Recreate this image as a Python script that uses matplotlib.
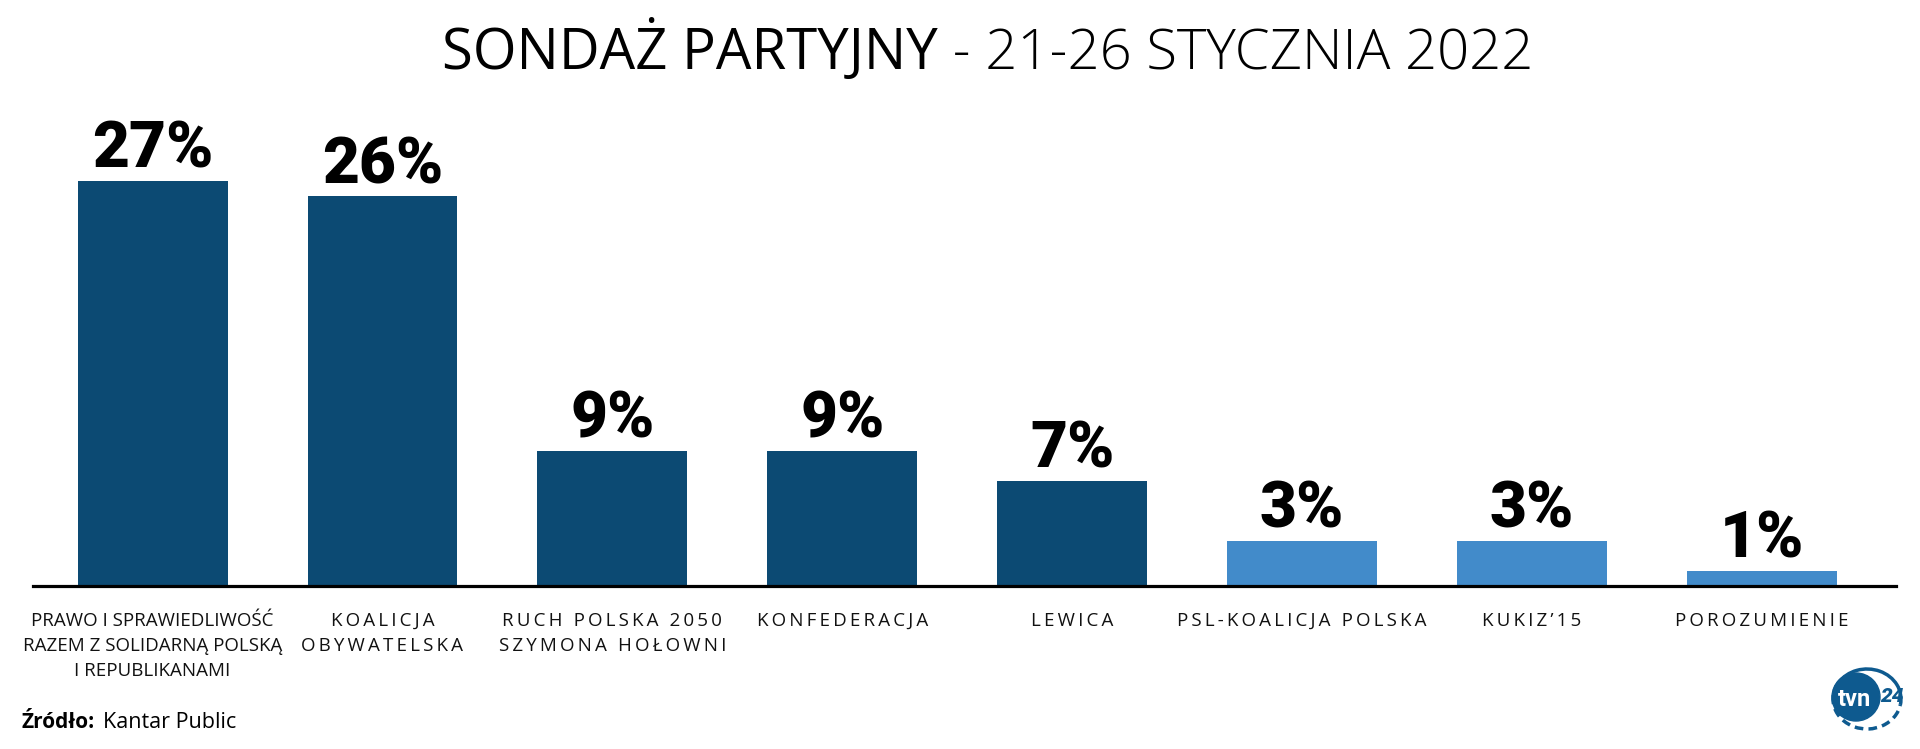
import matplotlib
matplotlib.use("Agg")
import matplotlib.pyplot as plt
from matplotlib.patches import Circle, Arc
import numpy as np

# ---- data ----
categories = [
    "PRAWO I SPRAWIEDLIWOŚĆ\nRAZEM Z SOLIDARNĄ POLSKĄ\nI REPUBLIKANAMI",
    "KOALICJA\nOBYWATELSKA",
    "RUCH POLSKA 2050\nSZYMONA HOŁOWNI",
    "KONFEDERACJA",
    "LEWICA",
    "PSL-KOALICJA POLSKA",
    "KUKIZ’15",
    "POROZUMIENIE",
]
values = [27, 26, 9, 9, 7, 3, 3, 1]
value_labels = [f"{v}%" for v in values]
title_main = "SONDAŻ PARTYJNY"
title_sub = " - 21-26 STYCZNIA 2022"
source_bold = "Źródło:"
source_text = "Kantar Public"

# ---- style ----
DARK = "#0c4a73"
LIGHT = "#428bca"
bar_colors = [DARK] * 5 + [LIGHT] * 3
W, H = 1920, 749
BOLD = ["Roboto", "DejaVu Sans"]
SANS = ["Open Sans", "DejaVu Sans"]


def tracked(label, gap="\u2009"):
    # letter-spaced rendering of a label (the first, long label stays condensed)
    return "\n".join(gap.join(line) for line in label.split("\n"))


fig = plt.figure(figsize=(W / 100, H / 100), dpi=100)
fig.patch.set_facecolor("white")

ax_left, ax_right, ax_bottom, ax_top = 33, 1896, 586, 100
ax = fig.add_axes([ax_left / W, (H - ax_bottom) / H,
                   (ax_right - ax_left) / W, (ax_bottom - ax_top) / H])
x = np.arange(len(values))
bars = ax.bar(x, values, width=0.652, color=bar_colors, zorder=2)
ax.set_xlim(-0.520, 7.583)
ax.set_ylim(0, (ax_bottom - ax_top) / 15.0)
ax.axhline(0, color="black", lw=2.3, zorder=3, clip_on=False)
for s in ax.spines.values():
    s.set_visible(False)
ax.set_yticks([])
ax.set_xticks(x)
shown = [categories[0]] + [tracked(c) for c in categories[1:]]
ax.set_xticklabels(shown, fontsize=13.5, family=SANS, color="#111111",
                   linespacing=1.52, va="top")
ax.tick_params(axis="x", length=0, pad=18.5)

ax.bar_label(bars, labels=value_labels, padding=0, fontsize=46,
             fontweight="heavy", family=BOLD, color="black")

# ---- title ----
t1 = fig.text(0, (H - 69) / H, title_main, fontsize=40.5, family=SANS,
              color="black", ha="left", va="baseline")
t2 = fig.text(0, (H - 69) / H, title_sub, fontsize=40.5, family=SANS,
              fontweight="light", color="black", ha="left", va="baseline")
fig.canvas.draw()
r = fig.canvas.get_renderer()
w1 = t1.get_window_extent(r).width
w2 = t2.get_window_extent(r).width
cx = 988
start = cx - (w1 + w2) / 2
t1.set_x(start / W)
t2.set_x((start + w1) / W)

# ---- source ----
s1 = fig.text(21 / W, 21 / H, source_bold, fontsize=15, fontweight="bold",
              family=SANS, color="black", ha="left", va="baseline")
fig.canvas.draw()
ws = s1.get_window_extent(r).width
fig.text((21 + ws + 9) / W, 21 / H, source_text, fontsize=15.5,
         family=SANS, color="black", ha="left", va="baseline")

# ---- logo ----
lx0, lx1, ly0, ly1 = 1820, 1920, 655, 745
lax = fig.add_axes([lx0 / W, (H - ly1) / H, (lx1 - lx0) / W, (ly1 - ly0) / H])
lax.set_xlim(lx0, lx1)
lax.set_ylim(H - ly1, H - ly0)
lax.set_aspect("equal")
lax.axis("off")
LOGO = "#0e5a8f"
lax.add_patch(Circle((1856, H - 697), 24, color=LOGO))
lax.add_patch(Arc((1867, H - 699), 68, 60, theta1=-10, theta2=150,
                  color=LOGO, lw=2.5))
lax.add_patch(Arc((1867, H - 699), 68, 60, theta1=150, theta2=350,
                  color=LOGO, lw=2.5, ls=(0, (2.5, 1.5))))
lax.text(1855, H - 699, "tvn", color="white", fontsize=17, fontweight="bold",
         family=BOLD, ha="center", va="center")
lax.text(1892, H - 697, "24", color=LOGO, fontsize=15, fontweight="heavy",
         style="italic", family=BOLD, ha="center", va="center", clip_on=False)

fig.savefig("out.png", dpi=100, facecolor="white")
